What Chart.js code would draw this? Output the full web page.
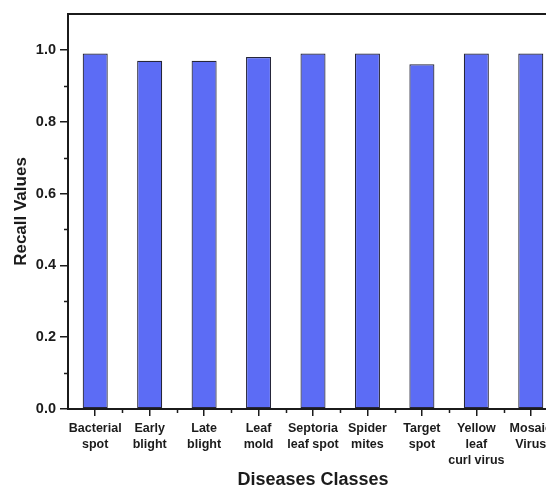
<!DOCTYPE html>
<html lang="en">
<head>
    <meta charset="UTF-8">
    <title>Recall Values</title>
    <style>
        html, body {
            margin: 0;
            padding: 0;
            background: #fff;
            overflow: hidden;
        }

        .chart-box {
            width: 570px;
            height: 489px;
        }
    </style>
</head>
<body>
    <div class="chart-box">
        <canvas id="recallChart"></canvas>
    </div>
    <script src="https://cdn.jsdelivr.net/npm/chart.js"></script>
    <script>
        // data
        const classes = [
            ['Bacterial', 'spot'],
            ['Early', 'blight'],
            ['Late', 'blight'],
            ['Leaf', 'mold'],
            ['Septoria', 'leaf spot'],
            ['Spider', 'mites'],
            ['Target', 'spot'],
            ['Yellow', 'leaf', 'curl virus'],
            ['Mosaic', 'Virus']
        ];
        const recall = [0.99, 0.97, 0.97, 0.98, 0.99, 0.99, 0.96, 0.99, 0.99];
        const yTicks = [0.0, 0.2, 0.4, 0.6, 0.8, 1.0];
        const yMinorTicks = [0.1, 0.3, 0.5, 0.7, 0.9];

        const ink = '#1b1b1b';
        const fontFamily = '"Liberation Sans", Arial, sans-serif';

        // top frame line + minor ticks on both axes
        const framePlugin = {
            id: 'frame',
            afterDraw(chart) {
                const ctx = chart.ctx;
                const area = chart.chartArea;
                const x = chart.scales.x;
                const y = chart.scales.y;
                ctx.save();
                ctx.strokeStyle = ink;
                ctx.lineWidth = 2;
                ctx.beginPath();
                ctx.moveTo(area.left - 1, area.top);
                ctx.lineTo(area.right, area.top);
                ctx.lineTo(area.right, area.bottom);
                ctx.stroke();

                ctx.lineWidth = 1.5;
                ctx.beginPath();
                yMinorTicks.forEach(v => {
                    const py = Math.round(y.getPixelForValue(v)) + 0.5;
                    ctx.moveTo(area.left - 4, py);
                    ctx.lineTo(area.left, py);
                });
                for (let i = 0; i < classes.length; i++) {
                    const px = Math.round(x.getPixelForValue(i + 0.5)) + 0.5;
                    ctx.moveTo(px, area.bottom);
                    ctx.lineTo(px, area.bottom + 4);
                }
                ctx.stroke();
                ctx.restore();
            }
        };

        const ctx = document.getElementById('recallChart');
        new Chart(ctx, {
            type: 'bar',
            data: {
                labels: classes,
                datasets: [{
                    label: 'Recall',
                    data: recall,
                    backgroundColor: 'rgb(92, 108, 245)',
                    borderColor: '#26263a',
                    borderWidth: 1.2,
                    borderSkipped: false,
                    categoryPercentage: 1,
                    barPercentage: 0.46
                }]
            },
            options: {
                responsive: true,
                maintainAspectRatio: false,
                animation: false,
                layout: {
                    padding: { left: 0, top: 14, right: 12, bottom: 0 }
                },
                plugins: {
                    legend: { display: false },
                    tooltip: { enabled: false }
                },
                scales: {
                    x: {
                        offset: true,
                        afterFit: s => { s.height = 80; },
                        grid: {
                            offset: false,
                            drawOnChartArea: false,
                            drawTicks: true,
                            tickLength: 7,
                            color: ink,
                            lineWidth: 1.5
                        },
                        border: { display: true, color: ink, width: 2 },
                        ticks: {
                            color: ink,
                            padding: 5,
                            maxRotation: 0,
                            autoSkip: false,
                            font: { family: fontFamily, size: 12.5, weight: 'bold', lineHeight: '16px' }
                        },
                        title: {
                            display: true,
                            text: 'Diseases Classes',
                            color: ink,
                            padding: { top: 0, bottom: 0 },
                            font: { family: fontFamily, size: 18, weight: 'bold', lineHeight: 1 }
                        }
                    },
                    y: {
                        min: 0,
                        max: 1.1,
                        afterFit: s => { s.width = 68; },
                        afterBuildTicks: s => { s.ticks = yTicks.map(v => ({ value: v })); },
                        grid: {
                            drawOnChartArea: false,
                            drawTicks: true,
                            tickLength: 8,
                            color: ink,
                            lineWidth: 1.5
                        },
                        border: { display: true, color: ink, width: 2 },
                        ticks: {
                            color: ink,
                            padding: 4,
                            callback: v => Number(v).toFixed(1),
                            font: { family: fontFamily, size: 14.5, weight: 'bold' }
                        },
                        title: {
                            display: true,
                            text: 'Recall Values',
                            color: ink,
                            padding: { top: 11, bottom: 0 },
                            font: { family: fontFamily, size: 17, weight: 'bold' }
                        }
                    }
                }
            },
            plugins: [framePlugin]
        });
    </script>
</body>
</html>
